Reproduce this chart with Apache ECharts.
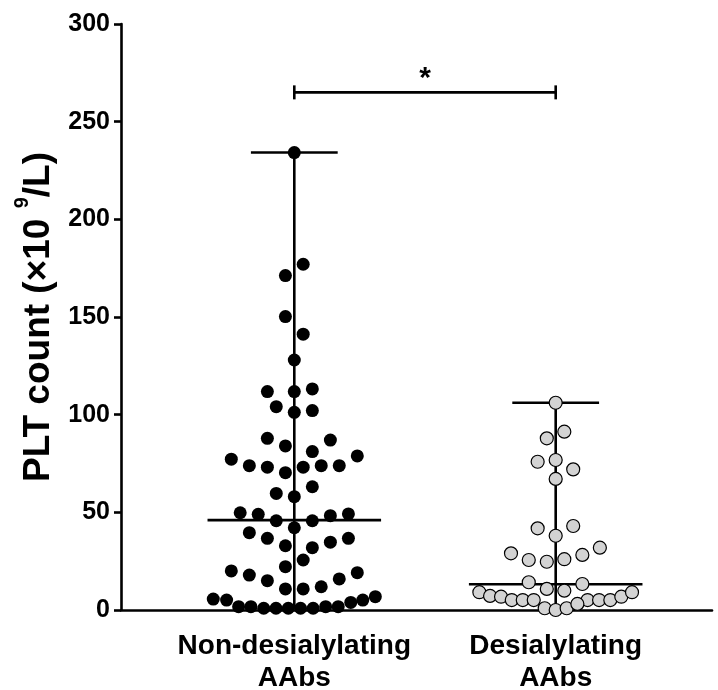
<!DOCTYPE html>
<html>
<head>
<meta charset="utf-8">
<script src="https://cdn.jsdelivr.net/npm/echarts@6/dist/echarts.min.js"></script>
<style>
html,body{margin:0;padding:0;background:#fff;}
#chart{width:718px;height:690px;}
</style>
</head>
<body>
<div id="chart"></div>
<script>
// ---- data ----
const categories = ['Non-desialylating\nAAbs', 'Desialylating\nAAbs'];
const yTicks = [0, 50, 100, 150, 200, 250, 300];

// group 1: PLT values and horizontal jitter (in category units)
const nonDesValues = [
  234.2, 177.0, 171.2, 150.2, 141.2, 128.0,
  111.8, 111.8, 113.2, 104.1, 101.2, 102.1,
  87.9, 84.0, 81.1, 87.0,
  77.2, 73.9, 73.1, 70.3, 73.1, 73.9, 73.9, 78.9,
  59.7, 58.0, 63.1,
  49.8, 49.0, 45.7, 42.1, 45.7, 48.3, 49.2,
  39.6, 36.7, 32.9, 31.9, 34.7, 36.7,
  25.6, 22.2,
  20.0, 17.9, 15.0, 10.8, 10.8, 11.9, 15.9, 19.1,
  5.6, 5.1, 5.1, 6.8,
  1.7, 1.7, 0.9, 0.9, 0.9, 0.9, 0.9, 1.7, 1.7, 3.9
];
const nonDesJitter = [
  0, 0.034, -0.034, -0.034, 0.034, 0,
  -0.103, 0, 0.069, -0.069, 0, 0.069,
  -0.103, -0.034, 0.069, 0.138,
  -0.241, -0.172, -0.103, -0.034, 0.034, 0.103, 0.172, 0.241,
  -0.069, 0, 0.069,
  -0.207, -0.138, -0.069, 0, 0.069, 0.138, 0.207,
  -0.172, -0.103, -0.034, 0.069, 0.138, 0.207,
  0.034, -0.034,
  -0.241, -0.172, -0.103, -0.034, 0.034, 0.103, 0.172, 0.241,
  -0.310, -0.259, 0.262, 0.310,
  -0.213, -0.166, -0.117, -0.070, -0.023, 0.024, 0.072, 0.120, 0.168, 0.216
];

// group 2
const desValues = [
  106.1, 87.9, 91.3, 75.9, 76.8, 72.0, 67.1,
  41.8, 43.0, 38.0,
  29.0, 25.6, 24.7, 26.0, 28.2, 31.9,
  14.2, 13.3, 10.8, 9.9,
  9.1, 7.2, 6.8, 5.1, 5.1, 5.1, 5.1, 5.1, 5.1, 6.8, 9.1,
  0.9, 0, 0.9, 3.1
];
const desJitter = [
  0, -0.034, 0.033, -0.069, 0, 0.067, 0,
  -0.069, 0.067, 0,
  -0.171, -0.103, -0.034, 0.033, 0.102, 0.169,
  -0.103, 0.102, -0.034, 0.033,
  -0.292, -0.251, -0.209, -0.168, -0.126, -0.084, 0.122, 0.166, 0.209, 0.251, 0.292,
  -0.042, 0, 0.042, 0.083
];

// summary: median with range
const medians = [46.0, 13.2];
const mins = [0.9, 0];
const maxs = [234.2, 106.1];

// significance
const sigLevel = 265;
const sigLabel = '*';

// ---- chart ----
const FONT = 'Liberation Sans, Arial, sans-serif';
const CAP_HALF = 0.166;
const MED_HALF = 0.332;

const chart = echarts.init(document.getElementById('chart'), null, {renderer: 'canvas'});

const pts1 = nonDesValues.map((v, i) => [1 + nonDesJitter[i], v]);
const pts2 = desValues.map((v, i) => [2 + desJitter[i], v]);
const summary = medians.map((m, i) => [i + 1, mins[i], maxs[i], m]);

const lineStyle = {stroke: '#000', lineWidth: 2.6};

chart.setOption({
  animation: false,
  backgroundColor: '#fff',
  grid: {left: 121, right: 6, top: 24, bottom: 80, containLabel: false, outerBoundsMode: 'none'},
  xAxis: {
    type: 'value',
    min: 0.337,
    max: 2.598,
    splitLine: {show: false},
    axisTick: {show: false},
    axisLine: {onZero: false, lineStyle: {color: '#000', width: 2.6}},
    axisLabel: {
      customValues: [1, 2],
      formatter: v => categories[Math.round(v) - 1] || '',
      color: '#000',
      fontFamily: FONT,
      fontWeight: 'bold',
      fontSize: 28,
      lineHeight: 32,
      margin: 20
    }
  },
  yAxis: {
    type: 'value',
    min: yTicks[0],
    max: yTicks[yTicks.length - 1],
    interval: 50,
    splitLine: {show: false},
    axisLine: {show: true, lineStyle: {color: '#000', width: 2.6}},
    axisTick: {show: true, length: 7, lineStyle: {color: '#000', width: 2.6}},
    axisLabel: {
      color: '#000',
      fontFamily: FONT,
      fontWeight: 'bold',
      fontSize: 25,
      margin: 11
    },
    name: '{m|PLT count (×10 }{s|9}{m|/L)}',
    nameLocation: 'middle',
    nameRotate: 90,
    nameGap: 55,
    nameTextStyle: {
      rich: {
        m: {fontSize: 37, fontWeight: 'bold', fontFamily: FONT, color: '#000', lineHeight: 52},
        s: {fontSize: 20, fontWeight: 'bold', fontFamily: FONT, color: '#000', lineHeight: 20, verticalAlign: 'top'}
      }
    }
  },
  series: [
    {
      type: 'custom',
      z: 1,
      data: summary,
      renderItem: function (params, api) {
        const x = api.value(0), lo = api.value(1), hi = api.value(2), med = api.value(3);
        const top = api.coord([x, hi]), bot = api.coord([x, lo]);
        const cL = api.coord([x - CAP_HALF, hi]), cR = api.coord([x + CAP_HALF, hi]);
        const mL = api.coord([x - MED_HALF, med]), mR = api.coord([x + MED_HALF, med]);
        return {
          type: 'group',
          children: [
            {type: 'line', shape: {x1: top[0], y1: top[1], x2: bot[0], y2: bot[1]}, style: lineStyle},
            {type: 'line', shape: {x1: cL[0], y1: cL[1], x2: cR[0], y2: cR[1]}, style: lineStyle},
            {type: 'line', shape: {x1: mL[0], y1: mL[1], x2: mR[0], y2: mR[1]}, style: lineStyle}
          ]
        };
      }
    },
    {
      type: 'custom',
      z: 1,
      data: [[1, 2, sigLevel]],
      renderItem: function (params, api) {
        const a = api.coord([api.value(0), api.value(2)]);
        const b = api.coord([api.value(1), api.value(2)]);
        const h = 7;
        return {
          type: 'group',
          children: [
            {type: 'line', shape: {x1: a[0], y1: a[1], x2: b[0], y2: b[1]}, style: lineStyle},
            {type: 'line', shape: {x1: a[0], y1: a[1] - h, x2: a[0], y2: a[1] + h}, style: lineStyle},
            {type: 'line', shape: {x1: b[0], y1: b[1] - h, x2: b[0], y2: b[1] + h}, style: lineStyle},
            {
              type: 'text',
              x: (a[0] + b[0]) / 2,
              y: a[1] - 14,
              style: {
                text: sigLabel,
                fill: '#000',
                font: 'bold 30px ' + FONT,
                align: 'center',
                verticalAlign: 'middle',
                textAlign: 'center',
                textVerticalAlign: 'middle'
              }
            }
          ]
        };
      }
    },
    {
      type: 'scatter',
      z: 3,
      symbol: 'circle',
      symbolSize: 13,
      data: pts1,
      itemStyle: {color: '#000', opacity: 1}
    },
    {
      type: 'scatter',
      z: 3,
      symbol: 'circle',
      symbolSize: 13,
      data: pts2,
      itemStyle: {color: '#d3d3d3', borderColor: '#000', borderWidth: 1.2, opacity: 1}
    }
  ]
});
</script>
</body>
</html>
